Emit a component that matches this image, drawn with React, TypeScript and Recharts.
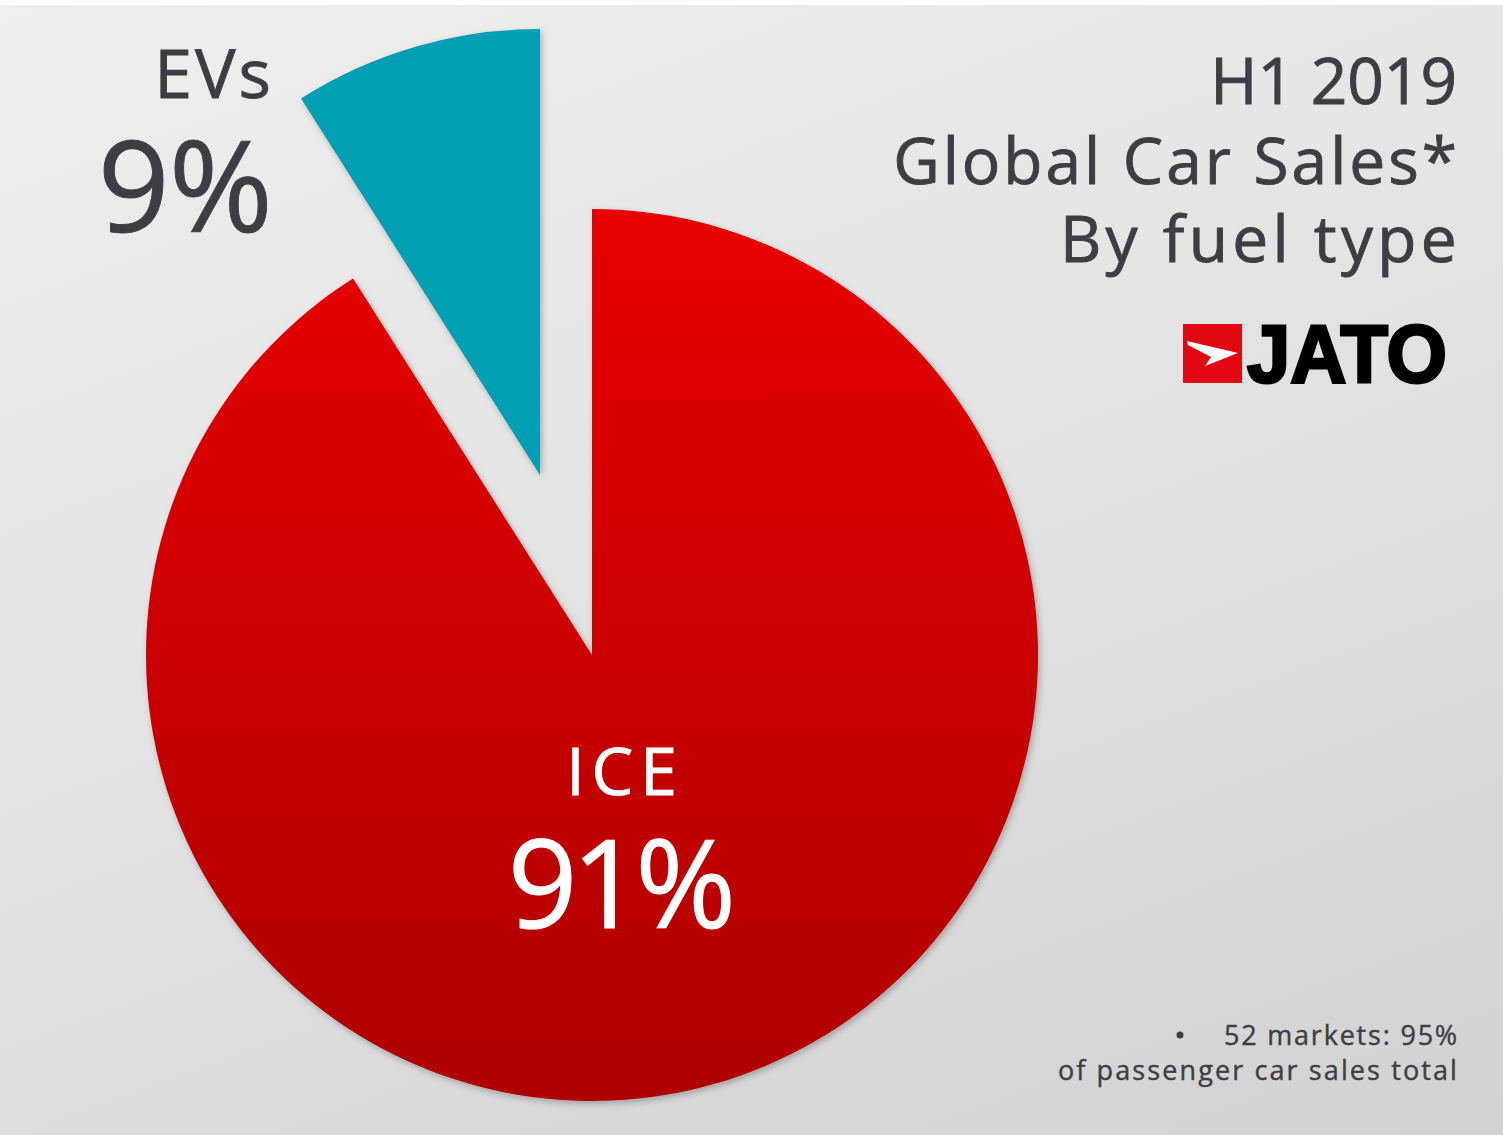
import React from "react";
import { PieChart, Pie, Cell } from "recharts";

const categories = ["ICE", "EVs"];
const shares = [91, 9];
const shareLabels = ["91%", "9%"];
const titleLines = ["H1 2019", "Global Car Sales*", "By fuel type"];
const footnoteLines = ["52 markets: 95%", "of passenger car sales total"];

const data = categories.map((name, i) => ({ name, value: shares[i] }));

const FONT = "'Open Sans', Lato, sans-serif";
const TEXT = "#3d3e44";

export default function App() {
  const dark = { fontFamily: FONT, fill: TEXT, stroke: TEXT, strokeWidth: 0.9 };
  const light = { fontFamily: FONT, fill: "#ffffff", stroke: "#ffffff", strokeWidth: 1 };
  return (
    <div
      style={{
        position: "absolute",
        left: 0,
        top: 0,
        width: 1503,
        height: 1135,
        background: "#ffffff",
        overflow: "hidden",
      }}
    >
      <div
        style={{
          position: "absolute",
          left: 0,
          top: 5,
          width: 1503,
          height: 1130,
          background: "linear-gradient(160deg, #efefef 0%, #e2e2e2 50%, #d2d2d2 100%)",
        }}
      />
      <div style={{ position: "absolute", left: 0, top: 0 }}>
        <PieChart width={1503} height={1135} margin={{ top: 0, right: 0, bottom: 0, left: 0 }}>
          <defs>
            <linearGradient id="iceGrad" x1="0" y1="0" x2="0" y2="1">
              <stop offset="0%" stopColor="#e80000" />
              <stop offset="100%" stopColor="#ae0000" />
            </linearGradient>
            <filter id="shadow" x="-10%" y="-10%" width="120%" height="120%">
              <feDropShadow dx="2" dy="3" stdDeviation="3" floodColor="#000" floodOpacity="0.25" />
            </filter>
          </defs>
          <Pie
            data={data}
            dataKey="value"
            nameKey="name"
            cx={592}
            cy={655}
            innerRadius={0}
            outerRadius={446}
            startAngle={90}
            endAngle={-270}
            stroke="none"
            isAnimationActive={false}
          >
            <Cell fill="url(#iceGrad)" filter="url(#shadow)" />
            <Cell fill="transparent" />
          </Pie>
          <Pie
            data={data}
            dataKey="value"
            nameKey="name"
            cx={540}
            cy={475}
            innerRadius={0}
            outerRadius={446}
            startAngle={90}
            endAngle={-270}
            stroke="none"
            isAnimationActive={false}
          >
            <Cell fill="transparent" />
            <Cell fill="#009fb4" filter="url(#shadow)" />
          </Pie>
        </PieChart>
      </div>
      <svg
        width={1503}
        height={1135}
        style={{ position: "absolute", left: 0, top: 0, pointerEvents: "none" }}
      >
        {/* Title */}
        <text x={1457} y={104} textAnchor="end" fontSize={64} {...dark}>
          {titleLines[0]}
        </text>
        <text x={1460} y={184} textAnchor="end" fontSize={64} letterSpacing={3} {...dark}>
          {titleLines[1]}
        </text>
        <text x={1461} y={262} textAnchor="end" fontSize={64} letterSpacing={4.3} {...dark}>
          {titleLines[2]}
        </text>

        {/* JATO logo */}
        <rect x={1183} y={324} width={59} height={59} fill="#e30613" />
        <polygon points="1187,341 1238,353 1205,366 1211,357 1188,345" fill="#ffffff" />
        <text
          x={1247}
          y={382}
          fontFamily="'Liberation Sans', Arial, sans-serif"
          fontWeight={700}
          fontSize={82}
          textLength={200}
          lengthAdjust="spacingAndGlyphs"
          fill="#000000"
          stroke="#000000"
          strokeWidth={3}
        >
          JATO
        </text>

        {/* EV labels */}
        <text x={274} y={98} textAnchor="end" fontSize={68} letterSpacing={3} {...dark}>
          {categories[1]}
        </text>
        <text x={272} y={232} textAnchor="end" fontSize={126} letterSpacing={-1} {...dark}>
          {shareLabels[1]}
        </text>

        {/* ICE labels */}
        <text x={625} y={795} textAnchor="middle" fontSize={66} letterSpacing={7} {...light}>
          {categories[0]}
        </text>
        <text x={619} y={928} textAnchor="middle" fontSize={122} letterSpacing={-6} {...light}>
          {shareLabels[0]}
        </text>

        {/* Footnote */}
        <circle cx={1180} cy={1035} r={3.5} fill={TEXT} />
        <text x={1459} y={1045} textAnchor="end" fontSize={27} letterSpacing={1.8} {...dark} strokeWidth={0.4}>
          {footnoteLines[0]}
        </text>
        <text x={1459} y={1080} textAnchor="end" fontSize={27} letterSpacing={2.1} {...dark} strokeWidth={0.4}>
          {footnoteLines[1]}
        </text>
      </svg>
    </div>
  );
}
